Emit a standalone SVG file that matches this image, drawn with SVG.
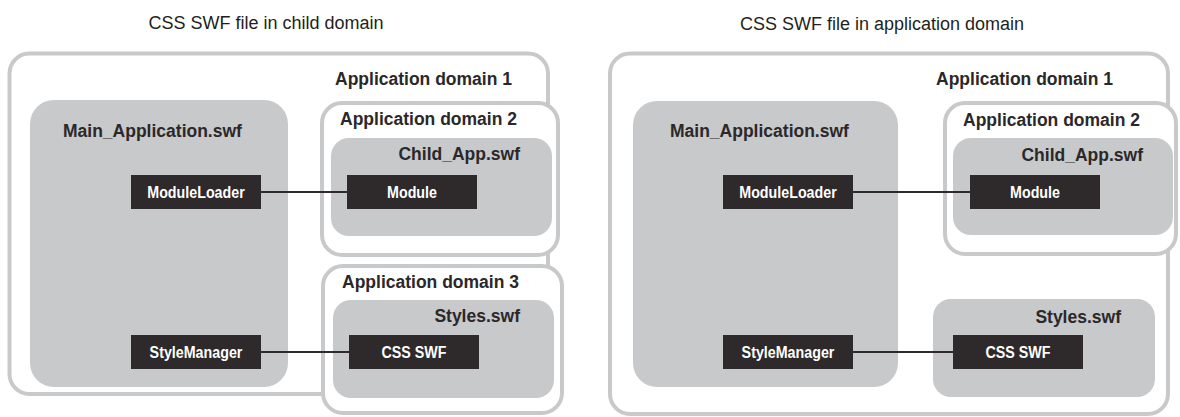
<svg xmlns="http://www.w3.org/2000/svg" width="1180" height="417" viewBox="0 0 1180 417">
<style>
.title{font-family:"Liberation Sans",Arial,sans-serif;font-size:18px;fill:#231f20;text-anchor:middle}
.domain{fill:#ffffff;stroke:#c8c9cb;stroke-width:4}
.swf{fill:#c8c9cb}
.lbl{font-family:"Liberation Sans",Arial,sans-serif;font-size:17.5px;font-weight:bold;fill:#2b2829}
.end{text-anchor:end}
.blk{fill:#2e2a2b}
.btxt{font-family:"Liberation Sans",Arial,sans-serif;font-size:17px;font-weight:bold;fill:#ffffff;text-anchor:middle}
.conn{stroke:#2e2a2b;stroke-width:2;fill:none}
</style>
<rect width="1180" height="417" fill="#ffffff"/>
<text class="title" x="266" y="29">CSS SWF file in child domain</text>
<text class="title" x="882" y="30">CSS SWF file in application domain</text>

<!-- Left panel -->
<g id="left-appdomain1">
<rect class="domain" x="9.5" y="53.5" width="538.5" height="340.5" rx="20"/>
<text class="lbl" x="335" y="85">Application domain 1</text>
</g>
<g id="left-appdomain2">
<rect class="domain" x="322" y="103" width="236" height="152" rx="20"/>
<text class="lbl" x="340" y="125">Application domain 2</text>
</g>
<g id="left-appdomain3">
<rect class="domain" x="323" y="266" width="239" height="147" rx="20"/>
<text class="lbl" x="342" y="288">Application domain 3</text>
</g>
<g id="left-main">
<rect class="swf" x="30" y="100" width="258" height="287" rx="24"/>
<text class="lbl" x="63" y="137">Main_Application.swf</text>
</g>
<g id="left-child">
<rect class="swf" x="331" y="138" width="221" height="98" rx="18"/>
<text class="lbl end" x="520" y="160">Child_App.swf</text>
</g>
<g id="left-styles">
<rect class="swf" x="333" y="300" width="221" height="98" rx="18"/>
<text class="lbl end" x="520" y="322">Styles.swf</text>
</g>
<g id="left-moduleloader">
<rect class="blk" x="131" y="175" width="130" height="34"/>
<text class="btxt" transform="matrix(0.84 0 0 1 196 198)">ModuleLoader</text>
</g>
<g id="left-module">
<rect class="blk" x="347" y="175" width="130" height="34"/>
<text class="btxt" transform="matrix(0.84 0 0 1 412 198)">Module</text>
</g>
<g id="left-stylemanager">
<rect class="blk" x="131" y="335" width="130" height="34"/>
<text class="btxt" transform="matrix(0.84 0 0 1 196 358)">StyleManager</text>
</g>
<g id="left-cssswf">
<rect class="blk" x="349" y="335" width="130" height="34"/>
<text class="btxt" transform="matrix(0.84 0 0 1 414 358)">CSS SWF</text>
</g>

<!-- Right panel -->
<g id="right-appdomain1">
<rect class="domain" x="610" y="53.5" width="558" height="360.5" rx="20"/>
<text class="lbl" x="936" y="85">Application domain 1</text>
</g>
<g id="right-appdomain2">
<rect class="domain" x="945" y="103" width="231" height="151" rx="20"/>
<text class="lbl" x="963" y="126">Application domain 2</text>
</g>
<g id="right-main">
<rect class="swf" x="633" y="101" width="265" height="286" rx="24"/>
<text class="lbl" x="670" y="137">Main_Application.swf</text>
</g>
<g id="right-child">
<rect class="swf" x="953" y="138" width="220" height="97" rx="18"/>
<text class="lbl end" x="1143" y="161">Child_App.swf</text>
</g>
<g id="right-styles">
<rect class="swf" x="933" y="299" width="222" height="98" rx="18"/>
<text class="lbl end" x="1121" y="323">Styles.swf</text>
</g>
<g id="right-moduleloader">
<rect class="blk" x="723" y="175" width="130" height="34"/>
<text class="btxt" transform="matrix(0.84 0 0 1 788 198)">ModuleLoader</text>
</g>
<g id="right-module">
<rect class="blk" x="970" y="175" width="130" height="34"/>
<text class="btxt" transform="matrix(0.84 0 0 1 1035 198)">Module</text>
</g>
<g id="right-stylemanager">
<rect class="blk" x="723" y="335" width="130" height="34"/>
<text class="btxt" transform="matrix(0.84 0 0 1 788 358)">StyleManager</text>
</g>
<g id="right-cssswf">
<rect class="blk" x="953" y="335" width="130" height="34"/>
<text class="btxt" transform="matrix(0.84 0 0 1 1018 358)">CSS SWF</text>
</g>

<g id="connectors">
<line class="conn" x1="261" y1="192" x2="347" y2="192"/>
<line class="conn" x1="261" y1="352" x2="349" y2="352"/>
<line class="conn" x1="853" y1="192" x2="970" y2="192"/>
<line class="conn" x1="853" y1="352" x2="953" y2="352"/>
</g>
</svg>
